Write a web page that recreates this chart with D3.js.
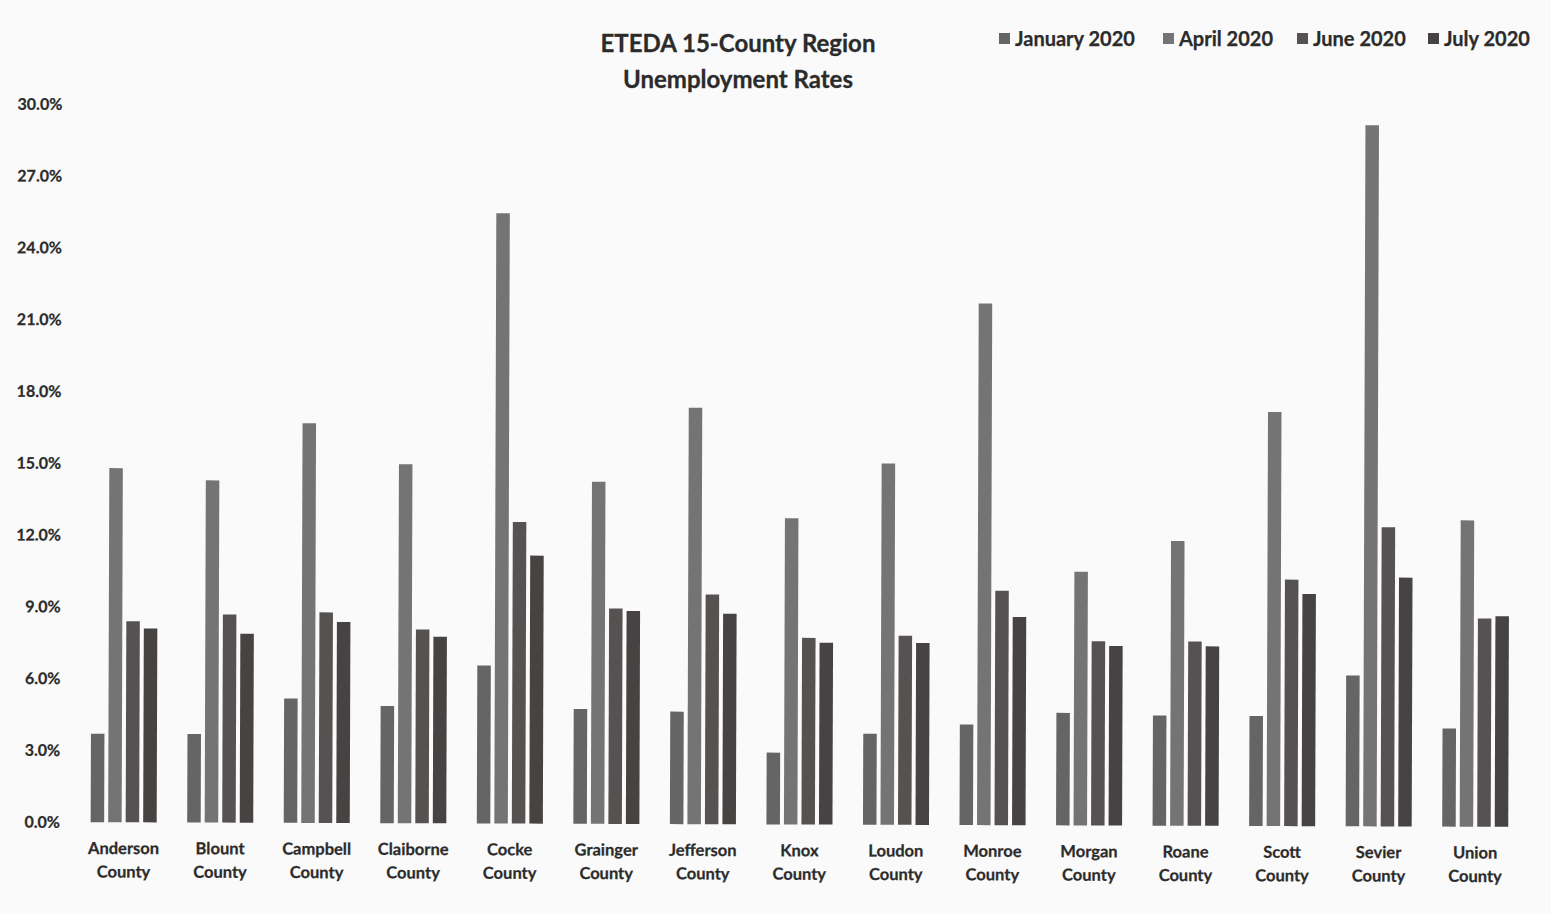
<!DOCTYPE html>
<html>
<head>
<meta charset="utf-8">
<script src="https://cdn.jsdelivr.net/npm/d3@7"></script>
<style>
  html, body { margin: 0; padding: 0; background: #fafafa; }
  svg { display: block; }
  text { font-family: Lato, "Open Sans", sans-serif; font-weight: bold; fill: #2b2b2b; }
</style>
</head>
<body>
<svg id="chart" width="1551" height="914"></svg>
<script>
const counties = ["Anderson County","Blount County","Campbell County","Claiborne County","Cocke County","Grainger County","Jefferson County","Knox County","Loudon County","Monroe County","Morgan County","Roane County","Scott County","Sevier County","Union County"];
const seriesNames = ["January 2020","April 2020","June 2020","July 2020"];
const jan2020 = [3.7, 3.7, 5.2, 4.9, 6.6, 4.8, 4.7, 3.0, 3.8, 4.2, 4.7, 4.6, 4.6, 6.3, 4.1];
const apr2020 = [14.8, 14.3, 16.7, 15.0, 25.5, 14.3, 17.4, 12.8, 15.1, 21.8, 10.6, 11.9, 17.3, 29.3, 12.8];
const jun2020 = [8.4, 8.7, 8.8, 8.1, 12.6, 9.0, 9.6, 7.8, 7.9, 9.8, 7.7, 7.7, 10.3, 12.5, 8.7];
const jul2020 = [8.1, 7.9, 8.4, 7.8, 11.2, 8.9, 8.8, 7.6, 7.6, 8.7, 7.5, 7.5, 9.7, 10.4, 8.8];
const yTicks = [0, 3, 6, 9, 12, 15, 18, 21, 24, 27, 30];
const titleLines = ["ETEDA 15-County Region", "Unemployment Rates"];

const seriesValues = [jan2020, apr2020, jun2020, jul2020];
const colors = ["#656565", "#747474", "#575252", "#474343"];

const svg = d3.select("#chart");

// Title
svg.append("text")
  .attr("x", 738).attr("text-anchor", "middle")
  .style("font-size", "24px")
  .style("stroke", "#2b2b2b").style("stroke-width", "0.3px")
  .selectAll("tspan").data(titleLines).join("tspan")
  .attr("x", 738)
  .attr("y", (d, i) => 52 + i * 36)
  .text(d => d);

// Legend
const legendX = [999, 1163, 1297, 1428];
const legend = svg.append("g");
const li = legend.selectAll("g").data(seriesNames).join("g")
  .attr("transform", (d, i) => `translate(${legendX[i]},0)`);
li.append("rect").attr("x", 0).attr("y", 33).attr("width", 11).attr("height", 11)
  .attr("fill", (d, i) => colors[i]);
li.append("text").attr("x", 16).attr("y", 46).style("font-size", "20px")
  .style("stroke", "#2b2b2b").style("stroke-width", "0.25px").text(d => d);

// Plot (slightly rotated like the scanned original)
const plot = svg.append("g").attr("transform", "rotate(0.187, 124, 822.3)");

const x0 = d3.scaleBand().domain(counties).range([75.4, 1523.5])
  .paddingInner(0.316).paddingOuter(0.158);
const x1 = d3.scaleBand().domain(seriesNames).range([0, x0.bandwidth()])
  .paddingInner(0.229).paddingOuter(0);
const y = d3.scaleLinear().domain([0, 30]).range([822.3, 104.4]);

const yAxis = plot.append("g").attr("transform", "translate(60,0)")
  .call(d3.axisLeft(y).tickValues(yTicks).tickSize(0).tickPadding(0)
    .tickFormat(d => d3.format(".1f")(d) + "%"));
yAxis.select(".domain").remove();
yAxis.selectAll("text").style("font-size", "16px").style("font-family", "Lato, sans-serif")
  .style("font-weight", "bold").attr("fill", "#2b2b2b")
  .style("stroke", "#2b2b2b").style("stroke-width", "0.25px");

const groups = plot.selectAll("g.county").data(counties).join("g")
  .attr("class", "county")
  .attr("transform", d => `translate(${x0(d)},0)`);

groups.selectAll("rect").data((c, ci) => seriesNames.map((s, si) => ({ s, si, v: seriesValues[si][ci] })))
  .join("rect")
  .attr("x", d => x1(d.s))
  .attr("width", x1.bandwidth())
  .attr("y", d => y(d.v))
  .attr("height", d => y(0) - y(d.v))
  .attr("fill", d => colors[d.si]);

// X labels
const xl = plot.append("g");
xl.selectAll("text").data(counties).join("text")
  .attr("text-anchor", "middle")
  .style("font-size", "16.5px")
  .style("stroke", "#2b2b2b").style("stroke-width", "0.25px")
  .each(function(d) {
    const parts = d.split(" ");
    const cx = x0(d) + x0.bandwidth() / 2;
    d3.select(this).selectAll("tspan").data(parts).join("tspan")
      .attr("x", cx)
      .attr("y", (p, i) => 854 + i * 23.5)
      .text(p => p);
  });
</script>
</body>
</html>
